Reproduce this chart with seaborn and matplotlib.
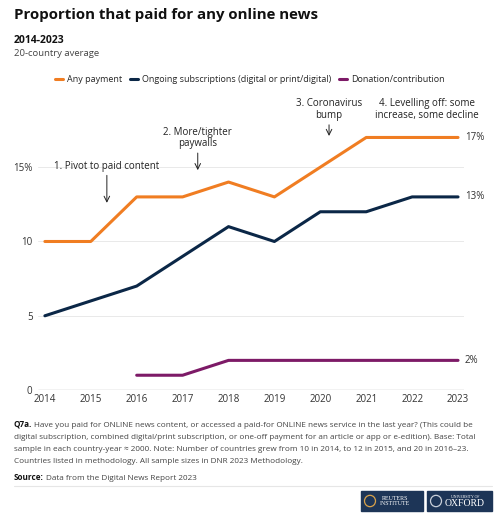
import numpy as np
import pandas as pd
import seaborn as sns
import matplotlib.pyplot as plt
from matplotlib.patches import Rectangle

years = [2014, 2015, 2016, 2017, 2018, 2019, 2020, 2021, 2022, 2023]
any_payment = [10, 10, 13, 13, 14, 13, 15, 17, 17, 17]
subscriptions = [5, 6, 7, 9, 11, 10, 12, 12, 13, 13]
donation = [np.nan, np.nan, 1, 1, 2, 2, 2, 2, 2, 2]

series_names = ['Any payment',
                'Ongoing subscriptions (digital or print/digital)',
                'Donation/contribution']
colors = ['#f07d22', '#0b2747', '#7d1a67']

# (text, x year, text y, arrow tip y or None)
notes = [
    ('1. Pivot to paid content', 2015.35, 14.7, 12.6),
    ('2. More/tighter\npaywalls', 2017.33, 16.2, 14.8),
    ('3. Coronavirus\nbump', 2020.19, 18.1, 17.1),
    ('4. Levelling off: some\nincrease, some decline', 2022.32, 18.1, None),
]

df = pd.DataFrame({'year': years * 3,
                   'value': any_payment + subscriptions + donation,
                   'series': [series_names[0]] * 10 + [series_names[1]] * 10
                   + [series_names[2]] * 10})

sns.set_style('white')
plt.rcParams['font.family'] = ['Open Sans', 'DejaVu Sans']

fig = plt.figure(figsize=(5, 5.16), dpi=100)
ax = fig.add_axes([0.076, 0.244, 0.852, 0.576])

sns.lineplot(data=df, x='year', y='value', hue='series',
             palette=dict(zip(series_names, colors)), linewidth=2.2,
             legend=False, ax=ax)

ax.set_ylim(0, 20)
ax.set_yticks([0, 5, 10, 15])
ax.set_yticklabels(['0', '5', '10', '15%'])
ax.set_xticks(years)
ax.set_xticklabels([str(y) for y in years])
ax.tick_params(axis='both', length=0, labelsize=7, labelcolor='#333333')
ax.tick_params(axis='y', pad=4)
ax.tick_params(axis='x', pad=3)
for y in [5, 10, 15]:
    ax.axhline(y, color='#e9e9e9', lw=0.7, zorder=0)
ax.axhline(0, color='#9a9a9a', lw=0.9, zorder=1)
for s in ax.spines.values():
    s.set_visible(False)
ax.set(xlabel='', ylabel='')
ax.set_xlim(2013.85, 2023.13)

# end labels
for vals in [any_payment, subscriptions, donation]:
    ax.text(2023.15, vals[-1], '%d%%' % vals[-1], fontsize=7, color='#333333',
            va='center', ha='left', clip_on=False)

for txt, x, ty, tip in notes:
    ax.text(x, ty, txt, fontsize=7, color='#222222', ha='center', va='bottom',
            linespacing=1.1, clip_on=False)
    if tip is not None:
        ax.annotate('', xy=(x, tip), xytext=(x, ty - 0.25),
                    arrowprops=dict(arrowstyle='->', color='#222222', lw=0.7,
                                    shrinkA=0, shrinkB=0),
                    annotation_clip=False)

# legend
handles = [plt.Line2D([0], [0], color=c, lw=2.2) for c in colors]
fig.legend(handles, series_names, loc='center', bbox_to_anchor=(0.5, 0.846),
           ncol=3, frameon=False, fontsize=6.5, handlelength=0.9,
           handletextpad=0.4, columnspacing=0.9)

# titles
fig.text(0.028, 0.971, 'Proportion that paid for any online news',
         fontsize=10.8, fontweight='bold', va='center', color='#111111')
fig.text(0.028, 0.922, '2014-2023', fontsize=7.5, fontweight='bold',
         va='center', color='#111111')
fig.text(0.028, 0.897, '20-country average', fontsize=6.8, va='center',
         color='#444444')

# footer
fig.canvas.draw()
renderer = fig.canvas.get_renderer()
footer = [
    'Have you paid for ONLINE news content, or accessed a paid-for ONLINE news service in the last year? (This could be',
    'digital subscription, combined digital/print subscription, or one-off payment for an article or app or e-edition). Base: Total',
    'sample in each country-year \u2248 2000. Note: Number of countries grew from 10 in 2014, to 12 in 2015, and 20 in 2016\u201323.',
    'Countries listed in methodology. All sample sizes in DNR 2023 Methodology.',
]
fs = 5.9
fy = [427, 439, 451, 463]
q = fig.text(0.028, 1 - fy[0] / 516, 'Q7a.', fontsize=fs, fontweight='bold',
             va='baseline', color='#111111')
qw = q.get_window_extent(renderer).width / 500
for i, line in enumerate(footer):
    x0 = 0.028 + (qw + 0.004 if i == 0 else 0)
    fig.text(x0, 1 - fy[i] / 516, line, fontsize=fs, va='baseline',
             color='#444444')
s = fig.text(0.028, 1 - 480 / 516, 'Source:', fontsize=fs, fontweight='bold',
             va='baseline', color='#111111')
sw = s.get_window_extent(renderer).width / 500
fig.text(0.028 + sw + 0.004, 1 - 480 / 516, 'Data from the Digital News Report 2023',
         fontsize=fs, va='baseline', color='#444444')
fig.add_artist(plt.Line2D([0.028, 0.984], [1 - 486 / 516] * 2, color='#e6e6e6',
                          lw=0.8))

# logo boxes
navy = '#1d3557'
fig.add_artist(Rectangle((361 / 500, 1 - 511 / 516), 62 / 500, 20 / 516,
                         color=navy))
fig.add_artist(Rectangle((427 / 500, 1 - 511 / 516), 65 / 500, 20 / 516,
                         color=navy))
fig.text(395 / 500, 1 - 501 / 516, 'REUTERS\nINSTITUTE', fontsize=4.3,
         family='Liberation Serif', color='white', ha='center', va='center',
         linespacing=0.9)
fig.add_artist(plt.Circle((370 / 500, 1 - 501 / 516), 0.011, fill=False,
                          ec='#d9a24a', lw=0.9))
fig.text(465 / 500, 1 - 497 / 516, 'UNIVERSITY OF', fontsize=2.8,
         family='Liberation Serif', color='white', ha='center', va='center')
fig.text(465 / 500, 1 - 504 / 516, 'OXFORD', fontsize=7,
         family='Liberation Serif', color='white', ha='center', va='center')
fig.add_artist(plt.Circle((436 / 500, 1 - 501 / 516), 0.011, fill=False,
                          ec='#c9cfd9', lw=0.9))

fig.savefig('out.png', dpi=100)
